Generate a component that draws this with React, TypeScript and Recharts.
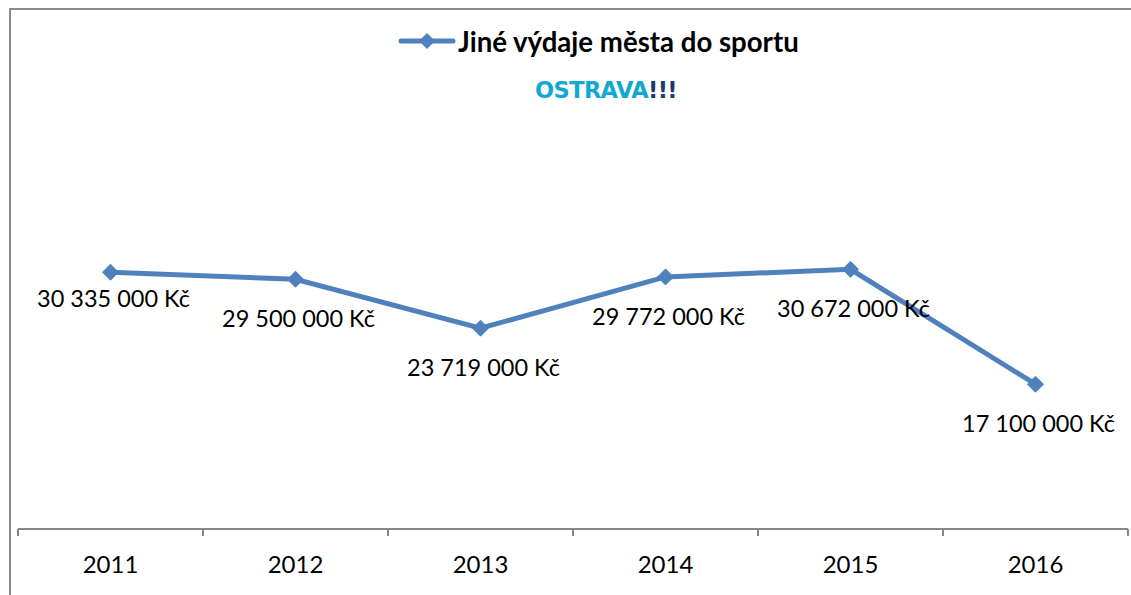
import { LineChart, Line, XAxis, YAxis, LabelList } from "recharts";

const years = ["2011", "2012", "2013", "2014", "2015", "2016"];
const spending = [30335000, 29500000, 23719000, 29772000, 30672000, 17100000];
const seriesName = "Jiné výdaje města do sportu";

const data = years.map((year, i) => ({ year, value: spending[i] }));

const BLUE = "#4f81bd";
const AXIS = "#868686";
const FONT = "Lato, 'Open Sans', sans-serif";

const formatKc = (v: number) =>
  String(v).replace(/\B(?=(\d{3})+(?!\d))/g, " ") + " Kč";

function Diamond(props: any) {
  const { cx, cy } = props;
  if (cx == null || cy == null) return null;
  const r = 8;
  return (
    <polygon
      points={`${cx},${cy - r} ${cx + r},${cy} ${cx},${cy + r} ${cx - r},${cy}`}
      fill={BLUE}
      stroke={BLUE}
    />
  );
}

function YearTick(props: any) {
  const { x, y, payload, index, width, visibleTicksCount } = props;
  const half = width / visibleTicksCount / 2;
  const isLast = index === visibleTicksCount - 1;
  return (
    <g>
      <line x1={x - half} x2={x - half} y1={y - 8} y2={y - 1} stroke={AXIS} strokeWidth={2} />
      {isLast && (
        <line x1={x + half} x2={x + half} y1={y - 8} y2={y - 1} stroke={AXIS} strokeWidth={2} />
      )}
      <text x={x} y={y + 36} textAnchor="middle" fontSize={24} fontFamily={FONT} fill="#000">
        {payload.value}
      </text>
    </g>
  );
}

function ValueLabel(props: any) {
  const { x, y, value, index } = props;
  const dy = index === 0 ? 26 : 39;
  return (
    <text
      x={x + 3}
      y={y + dy}
      textAnchor="middle"
      dominantBaseline="central"
      fontSize={23.5}
      fontFamily={FONT}
      fill="#000"
    >
      {formatKc(value)}
    </text>
  );
}

export default function App() {
  return (
    <div
      style={{
        position: "absolute",
        left: 0,
        top: 0,
        width: 1131,
        height: 595,
        overflow: "hidden",
        background: "#fff",
      }}
    >
      <div
        style={{
          position: "absolute",
          left: 9,
          top: 8,
          width: 1200,
          height: 700,
          border: "2px solid #8c8c8c",
        }}
      />
      <LineChart
        width={1131}
        height={595}
        data={data}
        margin={{ top: 21, right: 3, left: 18, bottom: 26 }}
        style={{ position: "absolute", left: 0, top: 0 }}
      >
        <XAxis
          dataKey="year"
          padding={{ left: 92.5, right: 92.5 }}
          axisLine={{ stroke: AXIS, strokeWidth: 2 }}
          tickLine={false}
          tick={<YearTick />}
          interval={0}
          height={40}
        />
        <YAxis hide domain={[0, 60000000]} />
        <Line
          type="linear"
          dataKey="value"
          name={seriesName}
          stroke={BLUE}
          strokeWidth={5}
          dot={<Diamond />}
          activeDot={false}
          isAnimationActive={false}
        >
          <LabelList dataKey="value" content={<ValueLabel />} />
        </Line>
      </LineChart>
      <div
        style={{
          position: "absolute",
          left: 398,
          top: 25,
          display: "flex",
          alignItems: "center",
          height: 32,
        }}
      >
        <svg width={58} height={20} style={{ marginRight: 2 }}>
          <line x1={3} x2={55} y1={10} y2={10} stroke={BLUE} strokeWidth={5} strokeLinecap="round" />
          <polygon points="29,2 37,10 29,18 21,10" fill={BLUE} />
        </svg>
        <span style={{ fontFamily: FONT, fontWeight: 700, fontSize: 27.6, color: "#000", whiteSpace: "nowrap" }}>
          {seriesName}
        </span>
      </div>
      <div
        style={{
          position: "absolute",
          left: 535,
          top: 77,
          fontFamily: "'DejaVu Sans', sans-serif",
          fontWeight: 800,
          fontSize: 22.5,
          letterSpacing: -0.6,
          whiteSpace: "nowrap",
        }}
      >
        <span style={{ color: "#10a9d2" }}>OSTRAVA</span>
        <span style={{ color: "#1d3a6b" }}>!!!</span>
      </div>
    </div>
  );
}
